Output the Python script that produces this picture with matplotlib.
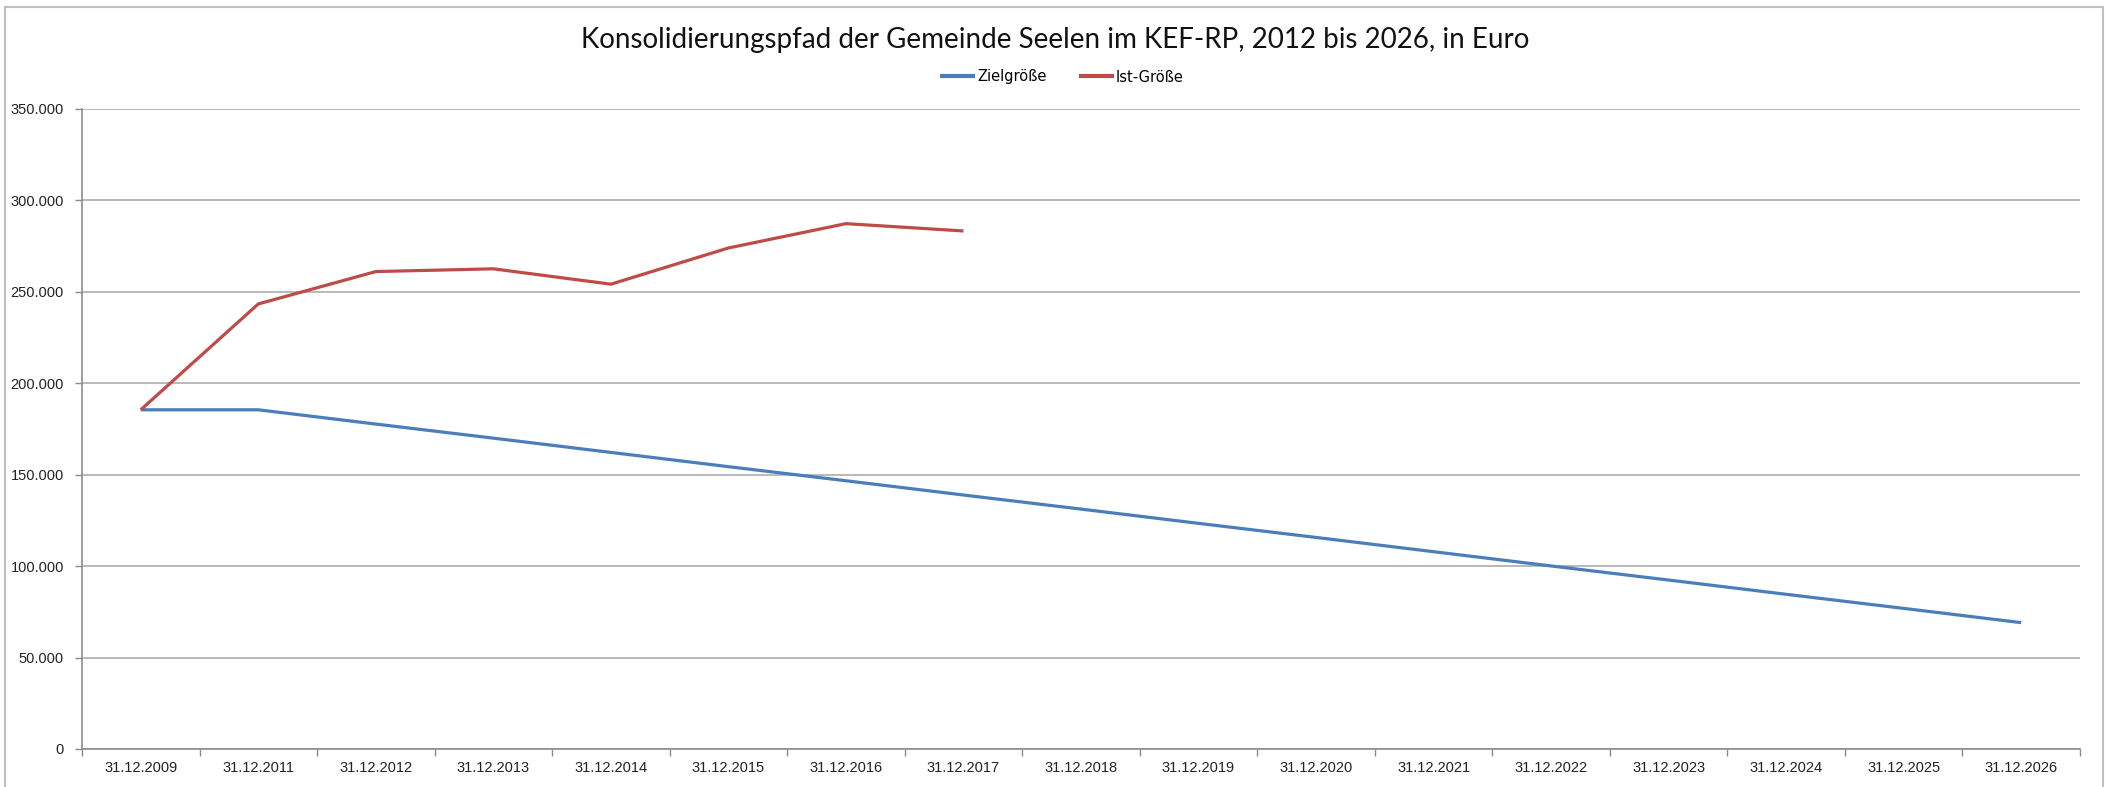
import matplotlib
matplotlib.use("Agg")
import matplotlib.pyplot as plt
from matplotlib.ticker import FuncFormatter, FixedLocator
from matplotlib.patches import Rectangle

# Konsolidierungspfad Seelen (KEF-RP)
dates = ["31.12.2009", "31.12.2011", "31.12.2012", "31.12.2013", "31.12.2014",
         "31.12.2015", "31.12.2016", "31.12.2017", "31.12.2018", "31.12.2019",
         "31.12.2020", "31.12.2021", "31.12.2022", "31.12.2023", "31.12.2024",
         "31.12.2025", "31.12.2026"]
ziel = [185500, 185500, 177700, 170000, 162200, 154400, 146700, 138900, 131200,
        123400, 115700, 107900, 100100, 92400, 84600, 76900, 69100]
ist = [185500, 243400, 261100, 262600, 254200, 274000, 287300, 283300]

blue = "#4A7EBB"
red = "#BE4B48"
grid_c = "#b3b3b3"
axis_c = "#8c8c8c"


def de_thousands(v, pos):
    return f"{int(v):,}".replace(",", ".")


def main():
    fig = plt.figure(figsize=(21.1, 7.87), dpi=100)
    ax = fig.add_axes([82 / 2110, 1 - 749 / 787, (2080 - 82) / 2110, (749 - 109) / 787])

    x = list(range(len(dates)))
    ax.plot(x, ziel, color=blue, lw=2.3, label="Zielgröße", solid_capstyle="butt")
    ax.plot(x[:len(ist)], ist, color=red, lw=2.3, label="Ist-Größe", solid_capstyle="butt")

    ax.set_xlim(-0.5, len(dates) - 0.5)
    ax.set_ylim(0, 350000)
    ax.set_yticks(range(0, 350001, 50000))
    ax.yaxis.set_major_formatter(FuncFormatter(de_thousands))
    ax.grid(axis="y", color=grid_c, lw=1.3)
    ax.set_axisbelow(True)

    ax.set_xticks(x)
    ax.set_xticklabels(dates)
    ax.xaxis.set_minor_locator(FixedLocator([i - 0.5 for i in range(len(dates) + 1)]))
    ax.tick_params(axis="x", which="major", length=0, pad=9, labelsize=10.5, colors="#222222")
    ax.tick_params(axis="x", which="minor", length=5, color=axis_c, width=1)
    ax.tick_params(axis="y", length=5, color=axis_c, width=1, pad=8, labelsize=10.5,
                   labelcolor="#222222")
    for lab in ax.get_xticklabels() + ax.get_yticklabels():
        lab.set_fontfamily("Liberation Sans")

    for s in ("top", "right"):
        ax.spines[s].set_visible(False)
    for s in ("left", "bottom"):
        ax.spines[s].set_color(axis_c)
        ax.spines[s].set_linewidth(1.2)

    fig.text(0.5, 1 - 40 / 787, "Konsolidierungspfad der Gemeinde Seelen im KEF-RP, 2012 bis 2026, in Euro",
             ha="center", va="center", fontsize=20, family="Lato", color="#111111")

    leg = fig.legend(loc="center", bbox_to_anchor=(1062 / 2110, 1 - 77 / 787), ncol=2,
                     frameon=False, handlelength=2.4, handletextpad=0.15, columnspacing=2.2,
                     prop={"family": "Liberation Sans Narrow", "size": 10.5})
    for line in leg.get_lines():
        line.set_linewidth(3)

    # light frame around the whole chart
    fig.patches.append(Rectangle((5 / 2110, -0.01), 2103 / 2110 - 5 / 2110, 1 - 7 / 787 + 0.01,
                                 transform=fig.transFigure, fill=False, ec="#c0c0c0", lw=1.5))

    fig.savefig("out.png", dpi=100)


if __name__ == "__main__":
    main()
